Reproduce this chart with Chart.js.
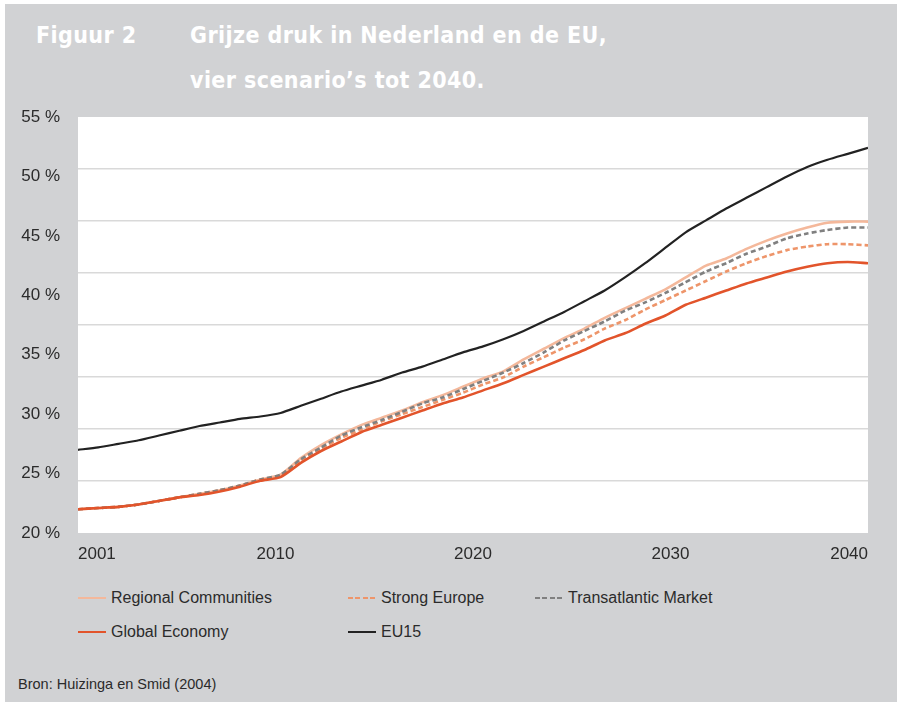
<!DOCTYPE html>
<html lang="nl">
<head>
<meta charset="utf-8">
<title>Grijze druk in Nederland en de EU</title>
<script src="https://cdn.jsdelivr.net/npm/chart.js@4.4.1/dist/chart.umd.min.js"></script>
<style>
  html, body { margin: 0; padding: 0; background: #fff; }
  #page { position: relative; width: 897px; height: 702px; overflow: hidden; font-family: "Liberation Sans", Arial, sans-serif; }
  #frame { position: absolute; left: 5px; top: 4px; width: 892px; height: 698px; background: #d1d2d4; }
  .title { position: absolute; color: #fff; font-family: "Liberation Sans Narrow", "DejaVu Sans Condensed", sans-serif; font-weight: bold; font-size: 23px; letter-spacing: 0.4px; line-height: 1; white-space: nowrap; }
  #chartBox { position: absolute; left: 0; top: 0; width: 897px; height: 575px; }
  #legend { position: absolute; left: 78px; top: 581px; display: grid; grid-template-columns: 270px 187px auto; grid-auto-rows: 34px; }
  .item { display: flex; align-items: center; font-size: 16px; color: #2b2b2b; white-space: nowrap; }
  .swatch { width: 28px; height: 2px; margin-right: 5px; }
  #source { position: absolute; left: 18px; top: 676px; font-size: 14.5px; color: #2b2b2b; }
</style>
</head>
<body>
<div id="page">
  <div id="frame"></div>
  <div class="title" style="left:36px; top:24px;">Figuur 2</div>
  <div class="title" style="left:190px; top:24px;">Grijze druk in Nederland en de EU,</div>
  <div class="title" style="left:190px; top:69px;">vier scenario’s tot 2040.</div>
  <div id="chartBox"><canvas id="chart"></canvas></div>
  <div id="legend"></div>
  <div id="source">Bron: Huizinga en Smid (2004)</div>
</div>
<script>
const years = [2001, 2002, 2003, 2004, 2005, 2006, 2007, 2008, 2009, 2010,
  2011, 2012, 2013, 2014, 2015, 2016, 2017, 2018, 2019, 2020,
  2021, 2022, 2023, 2024, 2025, 2026, 2027, 2028, 2029, 2030,
  2031, 2032, 2033, 2034, 2035, 2036, 2037, 2038, 2039, 2040];

const xTickLabels = ['2001', '2010', '2020', '2030', '2040'];

// grijze druk in %
const regionalCommunities = [22.0, 22.1, 22.2, 22.4, 22.7, 23.0, 23.3, 23.6, 24.0, 24.5,
  24.9, 26.3, 27.4, 28.3, 29.1, 29.7, 30.3, 31.0, 31.6, 32.3,
  33.0, 33.6, 34.6, 35.5, 36.4, 37.2, 38.1, 38.9, 39.7, 40.5,
  41.5, 42.5, 43.1, 43.9, 44.6, 45.2, 45.7, 46.1, 46.2, 46.2];

const strongEurope = [22.0, 22.1, 22.2, 22.4, 22.7, 23.0, 23.3, 23.6, 24.0, 24.5,
  24.8, 26.1, 27.1, 28.0, 28.7, 29.4, 30.0, 30.6, 31.2, 31.8,
  32.5, 33.1, 34.0, 34.8, 35.6, 36.3, 37.2, 37.9, 38.8, 39.6,
  40.4, 41.2, 42.0, 42.7, 43.3, 43.8, 44.1, 44.3, 44.3, 44.2];

const transatlanticMarket = [22.0, 22.1, 22.2, 22.4, 22.7, 23.0, 23.3, 23.6, 24.0, 24.5,
  24.9, 26.2, 27.2, 28.2, 28.9, 29.5, 30.2, 30.9, 31.4, 32.1,
  32.8, 33.5, 34.3, 35.2, 36.2, 37.0, 37.8, 38.7, 39.4, 40.2,
  41.1, 42.0, 42.7, 43.5, 44.1, 44.8, 45.2, 45.5, 45.7, 45.7];

const globalEconomy = [22.0, 22.1, 22.2, 22.4, 22.7, 23.0, 23.2, 23.5, 23.9, 24.4,
  24.7, 25.9, 26.9, 27.7, 28.5, 29.1, 29.7, 30.3, 30.9, 31.4,
  32.0, 32.6, 33.3, 34.0, 34.7, 35.4, 36.2, 36.8, 37.6, 38.3,
  39.2, 39.8, 40.4, 41.0, 41.5, 42.0, 42.4, 42.7, 42.8, 42.7];

const eu15 = [27.0, 27.2, 27.5, 27.8, 28.2, 28.6, 29.0, 29.3, 29.6, 29.8,
  30.1, 30.7, 31.3, 31.9, 32.4, 32.9, 33.5, 34.0, 34.6, 35.2,
  35.7, 36.3, 37.0, 37.8, 38.6, 39.5, 40.4, 41.5, 42.7, 44.0,
  45.3, 46.3, 47.3, 48.2, 49.1, 50.0, 50.8, 51.4, 51.9, 52.4];

function points(values) {
  return values.map((v, i) => ({ x: years[i], y: v }));
}

const plotBackground = {
  id: 'plotBackground',
  beforeDraw(chart) {
    const a = chart.chartArea;
    const ctx = chart.ctx;
    ctx.save();
    ctx.fillStyle = '#ffffff';
    ctx.fillRect(a.left, a.top, a.right - a.left, a.bottom - a.top);
    ctx.restore();
  }
};

const htmlLegend = {
  id: 'htmlLegend',
  afterUpdate(chart) {
    const box = document.getElementById('legend');
    box.innerHTML = '';
    chart.data.datasets.forEach(ds => {
      const item = document.createElement('div');
      item.className = 'item';
      const sw = document.createElement('span');
      sw.className = 'swatch';
      if (ds.borderDash && ds.borderDash.length) {
        sw.style.background = 'repeating-linear-gradient(to right, ' + ds.borderColor + ' 0 5px, transparent 5px 7.5px)';
      } else {
        sw.style.background = ds.borderColor;
      }
      item.appendChild(sw);
      const txt = document.createElement('span');
      txt.textContent = ds.label;
      item.appendChild(txt);
      box.appendChild(item);
    });
  }
};

const ctx = document.getElementById('chart').getContext('2d');
new Chart(ctx, {
  type: 'line',
  data: {
    datasets: [
      { label: 'Regional Communities', data: points(regionalCommunities), borderColor: '#f4b89b', borderWidth: 2.6, order: 4 },
      { label: 'Strong Europe', data: points(strongEurope), borderColor: '#ee956a', borderWidth: 2.6, borderDash: [5, 3], order: 3 },
      { label: 'Transatlantic Market', data: points(transatlanticMarket), borderColor: '#808080', borderWidth: 2.6, borderDash: [5, 3], order: 2 },
      { label: 'Global Economy', data: points(globalEconomy), borderColor: '#e2542b', borderWidth: 2.6, order: 1 },
      { label: 'EU15', data: points(eu15), borderColor: '#222222', borderWidth: 2.2, order: 0 }
    ]
  },
  options: {
    responsive: true,
    maintainAspectRatio: false,
    animation: false,
    layout: { padding: { left: 6, top: 117, right: 29, bottom: 0 } },
    elements: {
      point: { radius: 0, hoverRadius: 0 },
      line: { tension: 0.2, fill: false, borderCapStyle: 'butt' }
    },
    scales: {
      x: {
        type: 'linear',
        min: 2001,
        max: 2040,
        display: false
      },
      xl: {
        type: 'category',
        position: 'bottom',
        labels: xTickLabels,
        offset: false,
        grid: { display: false, drawTicks: false },
        border: { display: false },
        ticks: {
          align: 'inner',
          autoSkip: false,
          maxRotation: 0,
          padding: 11,
          color: '#2b2b2b',
          font: { family: '"Liberation Sans", Arial, sans-serif', size: 17 }
        },
        afterFit(scale) { scale.height = 42; }
      },
      y: {
        type: 'linear',
        min: 20,
        max: 55,
        grid: { display: false, drawTicks: false },
        border: { display: false },
        ticks: {
          stepSize: 5,
          padding: 18,
          color: '#2b2b2b',
          font: { family: '"Liberation Sans", Arial, sans-serif', size: 17 },
          callback: v => v + ' %'
        },
        afterFit(scale) { scale.width = 72; }
      },
      yGrid: {
        type: 'linear',
        position: 'right',
        min: 0,
        max: 8,
        border: { display: false },
        ticks: { stepSize: 1, display: false },
        grid: {
          drawTicks: false,
          lineWidth: 1.5,
          color: c => (c.tick && c.tick.value > 0 && c.tick.value < 8) ? '#d9d9d9' : 'rgba(0,0,0,0)'
        },
        afterFit(scale) { scale.width = 0; }
      }
    },
    plugins: {
      legend: { display: false },
      tooltip: { enabled: false }
    }
  },
  plugins: [plotBackground, htmlLegend]
});
</script>
</body>
</html>
